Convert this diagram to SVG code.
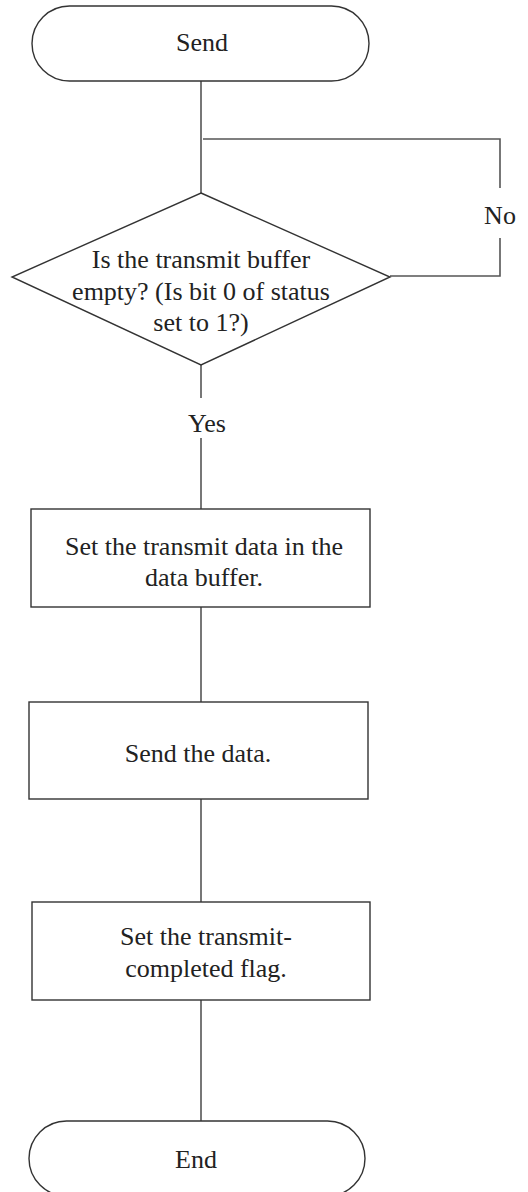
<svg xmlns="http://www.w3.org/2000/svg" width="528" height="1192" viewBox="0 0 528 1192">
<style>
.shape{fill:#fff;stroke:#333;stroke-width:1.4}
.conn{fill:none;stroke:#555;stroke-width:1.6}
text{font-family:"Liberation Serif","Times New Roman",serif;font-size:26px;fill:#222;text-anchor:middle}
</style>
<rect width="528" height="1192" fill="#fff"/>
<g id="connectors">
<line class="conn" x1="201" y1="81" x2="201" y2="193"/>
<polyline class="conn" points="203,139 500,139 500,188"/>
<polyline class="conn" points="500,238 500,276 390,276"/>
<line class="conn" x1="201" y1="365" x2="201" y2="398"/>
<line class="conn" x1="201" y1="438" x2="201" y2="509"/>
<line class="conn" x1="201" y1="607" x2="201" y2="702"/>
<line class="conn" x1="201" y1="799" x2="201" y2="902"/>
<line class="conn" x1="201" y1="1000" x2="201" y2="1121"/>
<text x="500" y="224">No</text>
<text x="207" y="432">Yes</text>
</g>
<g id="start">
<rect class="shape" x="32" y="6" width="337" height="75" rx="37.5" ry="37.5"/>
<text x="202" y="51">Send</text>
</g>
<g id="decision">
<polygon class="shape" points="201,193 390,277 201,365 12,277"/>
<text x="201" y="268">Is the transmit buffer</text>
<text x="201" y="300">empty? (Is bit 0 of status</text>
<text x="201" y="331">set to 1?)</text>
</g>
<g id="set-data">
<rect class="shape" x="31" y="509" width="339" height="98"/>
<text x="204" y="555">Set the transmit data in the</text>
<text x="204" y="586">data buffer.</text>
</g>
<g id="send-data">
<rect class="shape" x="29" y="702" width="339" height="97"/>
<text x="198" y="762">Send the data.</text>
</g>
<g id="set-flag">
<rect class="shape" x="32" y="902" width="338" height="98"/>
<text x="206" y="945">Set the transmit-</text>
<text x="206" y="977">completed flag.</text>
</g>
<g id="end">
<rect class="shape" x="29" y="1121" width="336" height="75" rx="37.5" ry="37.5"/>
<text x="196" y="1168">End</text>
</g>
</svg>
